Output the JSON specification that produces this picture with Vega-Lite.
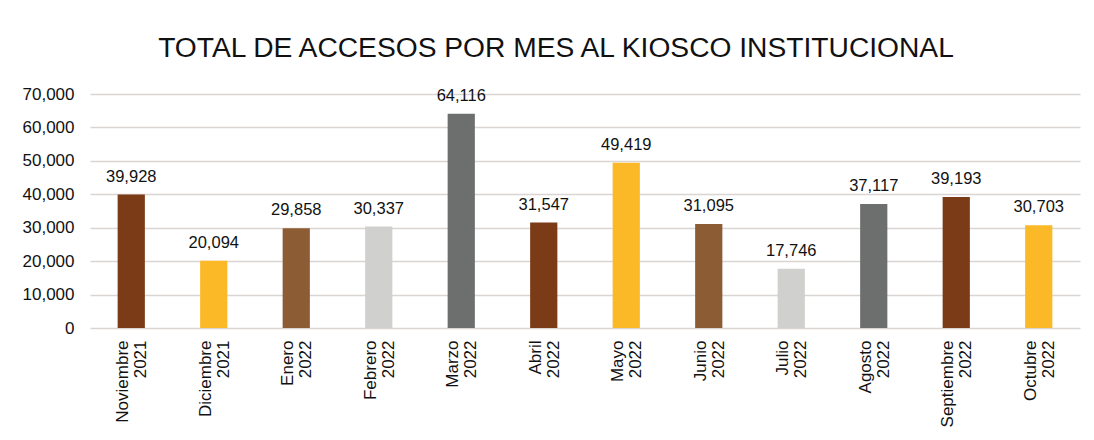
{
  "$schema": "https://vega.github.io/schema/vega-lite/v6.json",
  "width": 990,
  "height": 234,
  "autosize": {"type": "none"},
  "padding": {"left": 90, "top": 94, "right": 14, "bottom": 112},
  "background": "#ffffff",
  "title": {
    "text": "TOTAL DE ACCESOS POR MES AL KIOSCO INSTITUCIONAL",
    "font": "Liberation Sans",
    "fontSize": 28.2,
    "fontWeight": "normal",
    "color": "#111111",
    "anchor": "middle",
    "dx": -29,
    "offset": 22
  },
  "config": {
    "view": {"stroke": null},
    "font": "Liberation Sans"
  },
  "data": {
    "values": [
      {"mes": "Noviembre 2021", "accesos": 39928},
      {"mes": "Diciembre 2021", "accesos": 20094},
      {"mes": "Enero 2022", "accesos": 29858},
      {"mes": "Febrero 2022", "accesos": 30337},
      {"mes": "Marzo 2022", "accesos": 64116},
      {"mes": "Abril 2022", "accesos": 31547},
      {"mes": "Mayo 2022", "accesos": 49419},
      {"mes": "Junio 2022", "accesos": 31095},
      {"mes": "Julio 2022", "accesos": 17746},
      {"mes": "Agosto 2022", "accesos": 37117},
      {"mes": "Septiembre 2022", "accesos": 39193},
      {"mes": "Octubre 2022", "accesos": 30703}
    ]
  },
  "encoding": {
    "x": {
      "field": "mes",
      "type": "nominal",
      "sort": null,
      "scale": {"paddingInner": 0.67, "paddingOuter": 0.335},
      "axis": {
        "title": null,
        "domain": false,
        "ticks": false,
        "labelAngle": -90,
        "labelAlign": "right",
        "labelBaseline": "middle",
        "labelFont": "Liberation Sans",
        "labelFontSize": 17,
        "labelColor": "#111111",
        "labelLineHeight": 18,
        "labelPadding": 12,
        "labelOffset": -8,
        "labelExpr": "split(datum.label, ' ')",
        "zindex": 1
      }
    },
    "y": {
      "field": "accesos",
      "type": "quantitative",
      "scale": {"domain": [0, 70000], "nice": false},
      "axis": {
        "title": null,
        "domain": false,
        "ticks": false,
        "values": [0, 10000, 20000, 30000, 40000, 50000, 60000, 70000],
        "format": ",.0f",
        "labelFont": "Liberation Sans",
        "labelFontSize": 17,
        "labelColor": "#111111",
        "labelPadding": 16,
        "grid": true,
        "gridColor": "#d9d5d2",
        "gridWidth": 1.3
      }
    }
  },
  "layer": [
    {
      "mark": {"type": "bar"},
      "encoding": {
        "color": {
          "field": "mes",
          "type": "nominal",
          "legend": null,
          "scale": {
            "domain": ["Noviembre 2021", "Diciembre 2021", "Enero 2022", "Febrero 2022", "Marzo 2022", "Abril 2022", "Mayo 2022", "Junio 2022", "Julio 2022", "Agosto 2022", "Septiembre 2022", "Octubre 2022"],
            "range": ["#7a3b16", "#fcb927", "#8c5d34", "#d0d0ce", "#6d6f6f", "#7a3b16", "#fcb927", "#8c5d34", "#d0d0ce", "#6d6f6f", "#7a3b16", "#fcb927"]
          }
        }
      }
    },
    {
      "mark": {
        "type": "text",
        "baseline": "alphabetic",
        "dy": -13,
        "font": "Liberation Sans",
        "fontSize": 16.5,
        "color": "#111111"
      },
      "encoding": {
        "text": {"field": "accesos", "type": "quantitative", "format": ","}
      }
    }
  ]
}
